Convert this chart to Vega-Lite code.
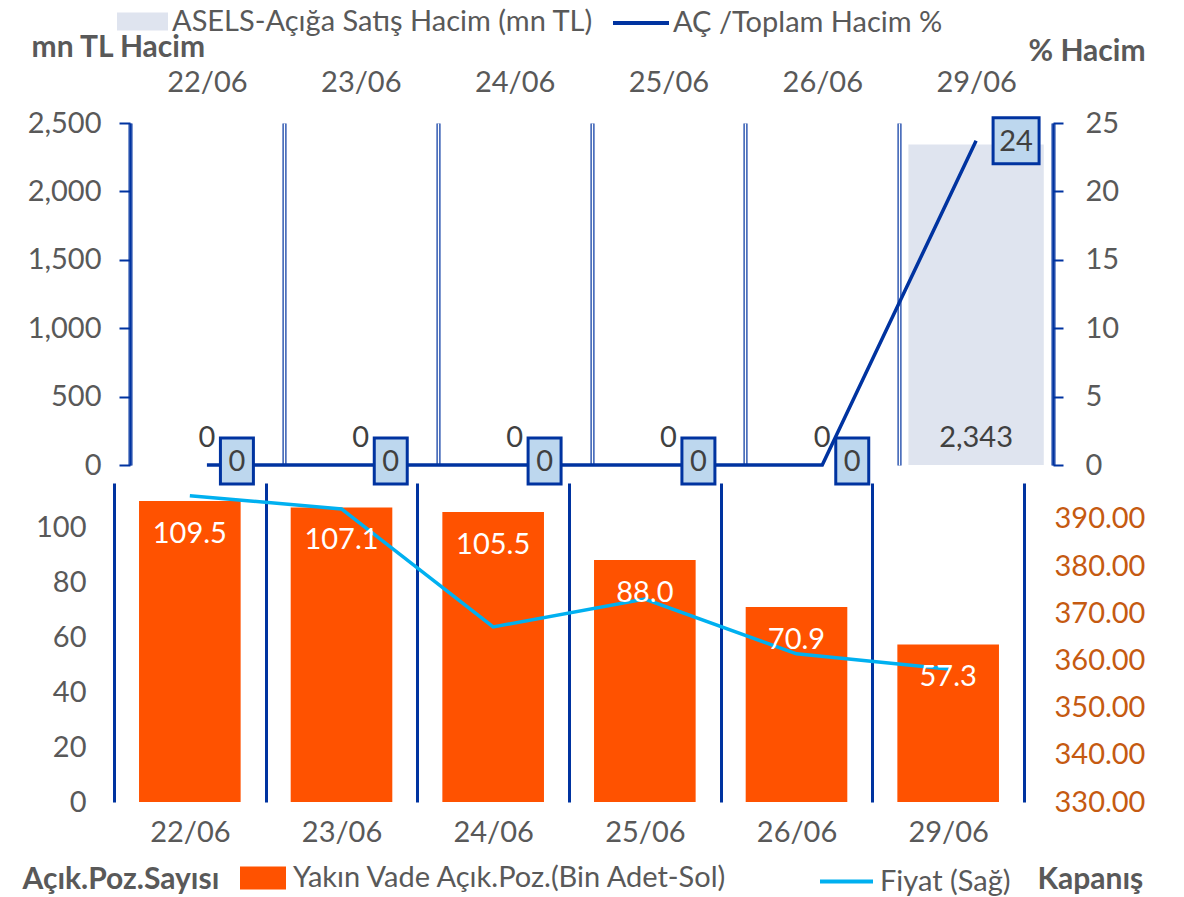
{
  "$schema": "https://vega.github.io/schema/vega-lite/v6.json",
  "background": "white",
  "padding": {"left": 22, "top": -7, "right": 5, "bottom": 0},
  "spacing": 18,
  "bounds": "flush",
  "config": {
    "font": "Lato",
    "view": {"stroke": null},
    "axis": {"labelFont": "Lato", "labelFontSize": 29, "labelColor": "#595959", "titleFont": "Lato", "titleFontSize": 30, "titleFontWeight": "bold", "titleColor": "#595959"},
    "legend": {"labelFont": "Lato", "labelFontSize": 29, "labelColor": "#595959", "labelLimit": 0}
  },
  "resolve": {"scale": {"x": "independent", "y": "independent", "fill": "independent", "stroke": "independent"}, "legend": {"fill": "independent", "stroke": "independent"}},
  "vconcat": [
    {
      "width": 939,
      "height": 342,
      "data": {"values": [
        {"date": "22/06", "vol": 0, "pct": 0},
        {"date": "23/06", "vol": 0, "pct": 0},
        {"date": "24/06", "vol": 0, "pct": 0},
        {"date": "25/06", "vol": 0, "pct": 0},
        {"date": "26/06", "vol": 0, "pct": 0},
        {"date": "29/06", "vol": 2343, "pct": 23.7}
      ]},
      "encoding": {"x": {"field": "date", "type": "ordinal", "sort": null, "axis": null}},
      "resolve": {"scale": {"y": "independent"}, "axis": {"x": "independent"}},
      "layer": [
        {
          "mark": {"type": "bar", "width": {"band": 0.88}},
          "encoding": {
            "x": {"field": "date", "type": "ordinal", "sort": null,
              "scale": {"range": [16, 939], "paddingInner": 0, "paddingOuter": 0},
              "axis": {"orient": "top", "title": null, "labelAngle": 0, "tickBand": "extent", "grid": true, "gridColor": "#0033a0", "gridWidth": 4, "ticks": false, "domain": false, "labelPadding": 26}},
            "y": {"field": "vol", "type": "quantitative", "scale": {"domain": [0, 2500], "nice": false},
              "axis": {"orient": "left", "offset": -16, "values": [0, 500, 1000, 1500, 2000, 2500], "format": ",.0f", "domain": true, "domainColor": "#0033a0", "domainWidth": 2, "ticks": true, "tickColor": "#0033a0", "tickWidth": 2, "tickSize": 11, "labelPadding": 18, "grid": false,
                "title": "mn TL Hacim", "titleAngle": 0, "titleAlign": "left", "titleBaseline": "middle", "titleX": -99, "titleY": -76}},
            "fill": {"datum": "ASELS-Açığa Satış Hacim (mn TL)", "type": "nominal", "scale": {"range": ["#dfe4ef"]},
              "legend": {"orient": "none", "legendX": 3, "legendY": -127, "direction": "horizontal", "title": null, "symbolType": "M-1,-0.35H1V0.35H-1Z", "symbolSize": 2601, "symbolStrokeWidth": 0, "labelOffset": 4, "padding": 0}}
          }
        },
        {
          "mark": {"type": "text", "baseline": "middle", "dy": -27, "color": "#404040", "fontSize": 29, "font": "Lato"},
          "encoding": {
            "y": {"datum": 0, "type": "quantitative", "scale": {"domain": [0, 2500], "nice": false}, "axis": null},
            "text": {"field": "vol", "type": "quantitative", "format": ",.0f"}
          }
        },
        {
          "mark": {"type": "line", "strokeWidth": 3.5},
          "encoding": {
            "x": {"field": "date", "type": "ordinal", "sort": null,
              "axis": {"orient": "bottom", "title": null, "tickBand": "extent", "grid": true, "gridColor": "white", "gridWidth": 1.6, "ticks": false, "domain": false, "labels": false}},
            "y": {"field": "pct", "type": "quantitative", "scale": {"domain": [0, 25], "nice": false},
              "axis": {"orient": "right", "values": [0, 5, 10, 15, 20, 25], "domain": true, "domainColor": "#0033a0", "domainWidth": 2, "ticks": true, "tickColor": "#0033a0", "tickWidth": 2, "tickSize": 10, "labelPadding": 22, "grid": false,
                "title": "% Hacim", "titleAngle": 0, "titleAlign": "left", "titleBaseline": "middle", "titleX": -25, "titleY": -72}},
            "stroke": {"datum": "AÇ /Toplam Hacim %", "type": "nominal", "scale": {"range": ["#0033a0"]},
              "legend": {"orient": "none", "legendX": 497, "legendY": -130, "direction": "horizontal", "title": null, "symbolType": "stroke", "symbolSize": 3136, "symbolStrokeWidth": 4, "labelOffset": 2, "padding": 0}}
          }
        },
        {
          "transform": [{"filter": "datum.pct < 1"}],
          "mark": {"type": "point", "shape": "M-0.717,-1H0.717V1H-0.717Z", "size": 2116, "filled": true, "fill": "#bdd7ee", "stroke": "#0033a0", "strokeWidth": 3, "opacity": 1, "xOffset": 30, "yOffset": -4},
          "encoding": {
            "y": {"field": "pct", "type": "quantitative", "scale": {"domain": [0, 25], "nice": false}, "axis": null}
          }
        },
        {
          "transform": [{"filter": "datum.pct >= 1"}],
          "mark": {"type": "point", "shape": "square", "size": 2116, "filled": true, "fill": "#bdd7ee", "stroke": "#0033a0", "strokeWidth": 3, "opacity": 1, "xOffset": 40, "yOffset": 0},
          "encoding": {
            "y": {"field": "pct", "type": "quantitative", "scale": {"domain": [0, 25], "nice": false}, "axis": null}
          }
        },
        {
          "transform": [{"filter": "datum.pct < 1"}],
          "mark": {"type": "text", "baseline": "middle", "align": "center", "dx": 30, "dy": -3, "color": "#404040", "fontSize": 29, "font": "Lato"},
          "encoding": {
            "y": {"field": "pct", "type": "quantitative", "scale": {"domain": [0, 25], "nice": false}, "axis": null},
            "text": {"field": "pct", "type": "quantitative", "format": ".0f"}
          }
        },
        {
          "transform": [{"filter": "datum.pct >= 1"}],
          "mark": {"type": "text", "baseline": "middle", "align": "center", "dx": 40, "dy": 1, "color": "#404040", "fontSize": 29, "font": "Lato"},
          "encoding": {
            "y": {"field": "pct", "type": "quantitative", "scale": {"domain": [0, 25], "nice": false}, "axis": null},
            "text": {"field": "pct", "type": "quantitative", "format": ".0f"}
          }
        }
      ]
    },
    {
      "width": 910,
      "height": 319,
      "data": {"values": [
        {"date": "22/06", "oi": 109.5, "price": 394.9},
        {"date": "23/06", "oi": 107.1, "price": 392.1},
        {"date": "24/06", "oi": 105.5, "price": 367.1},
        {"date": "25/06", "oi": 88.0, "price": 373.0},
        {"date": "26/06", "oi": 70.9, "price": 361.4},
        {"date": "29/06", "oi": 57.3, "price": 358.2}
      ]},
      "encoding": {"x": {"field": "date", "type": "ordinal", "sort": null,
        "scale": {"paddingInner": 0, "paddingOuter": 0},
        "axis": {"orient": "bottom", "title": null, "labelAngle": 0, "tickBand": "extent", "grid": true, "gridColor": "#0033a0", "gridWidth": 3, "ticks": false, "domain": false, "labelPadding": 16}}},
      "resolve": {"scale": {"y": "independent"}},
      "layer": [
        {
          "mark": {"type": "bar", "width": {"band": 0.67}},
          "encoding": {
            "y": {"field": "oi", "type": "quantitative", "scale": {"domain": [0, 116], "nice": false},
              "axis": {"orient": "left", "values": [0, 20, 40, 60, 80, 100], "domain": false, "ticks": false, "labelPadding": 28, "grid": false,
                "title": "Açık.Poz.Sayısı", "titleAngle": 0, "titleAlign": "left", "titleBaseline": "middle", "titleX": -92, "titleY": 396}},
            "fill": {"datum": "Yakın Vade Açık.Poz.(Bin Adet-Sol)", "type": "nominal", "scale": {"range": ["#ff5200"]},
              "legend": {"orient": "none", "legendX": 126, "legendY": 372, "direction": "horizontal", "title": null, "symbolType": "M-1,-0.5H1V0.5H-1Z", "symbolSize": 2116, "symbolStrokeWidth": 0, "labelOffset": 7, "padding": 0}}
          }
        },
        {
          "mark": {"type": "line", "strokeWidth": 3.5},
          "encoding": {
            "y": {"field": "price", "type": "quantitative", "scale": {"domain": [330, 397.6], "nice": false, "zero": false},
              "axis": {"orient": "right", "values": [330, 340, 350, 360, 370, 380, 390], "format": ".2f", "domain": false, "ticks": false, "labelPadding": 30, "labelColor": "#c55a11", "grid": false,
                "title": "Kapanış", "titleAngle": 0, "titleAlign": "left", "titleBaseline": "middle", "titleX": 13, "titleY": 396}},
            "stroke": {"datum": "Fiyat (Sağ)", "type": "nominal", "scale": {"range": ["#00b0f0"]},
              "legend": {"orient": "none", "legendX": 704, "legendY": 370, "direction": "horizontal", "title": null, "symbolType": "stroke", "symbolSize": 2809, "symbolStrokeWidth": 4, "labelOffset": 5, "padding": 0}}
          }
        },
        {
          "mark": {"type": "text", "baseline": "middle", "dy": 33, "color": "white", "fontSize": 29, "font": "Lato"},
          "encoding": {
            "y": {"field": "oi", "type": "quantitative", "scale": {"domain": [0, 116], "nice": false}, "axis": null},
            "text": {"field": "oi", "type": "quantitative", "format": ".1f"}
          }
        }
      ]
    }
  ]
}
